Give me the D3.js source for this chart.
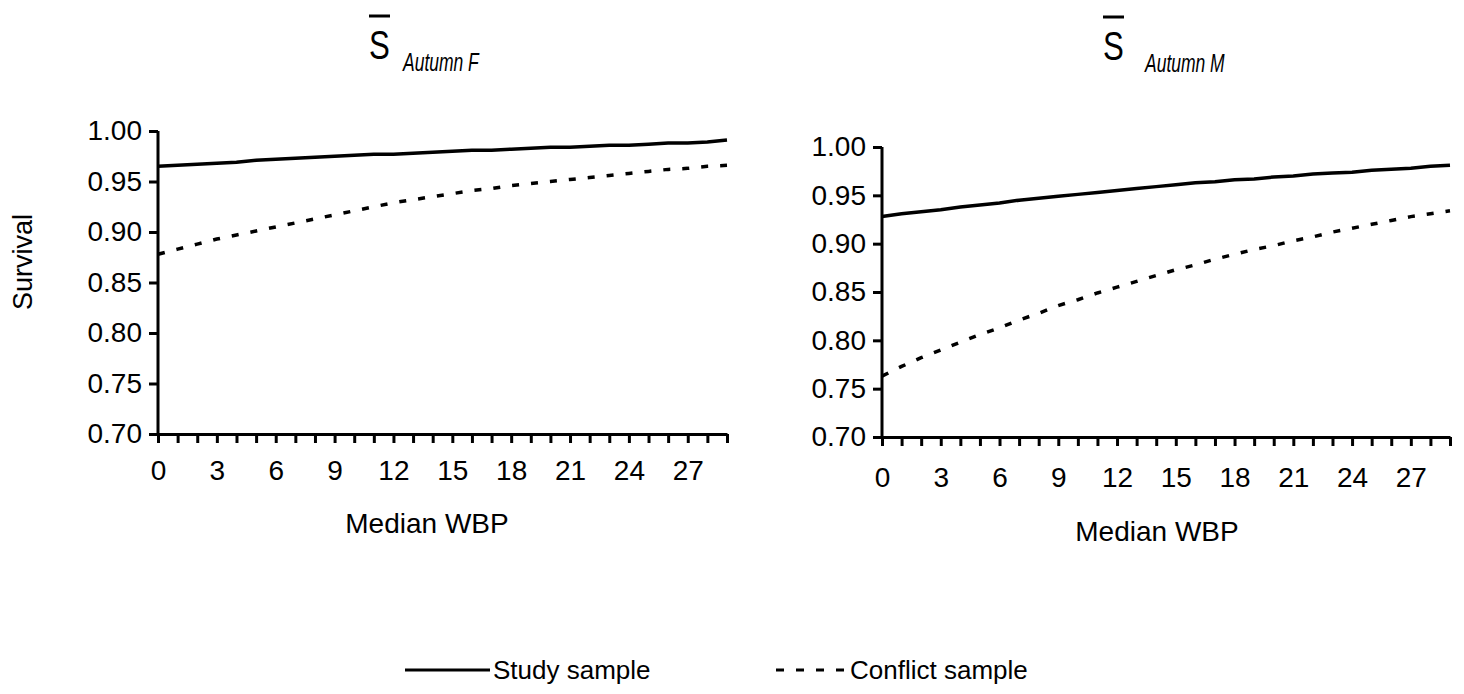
<!DOCTYPE html>
<html>
<head>
<meta charset="utf-8">
<script src="https://cdn.jsdelivr.net/npm/d3@7"></script>
<style>
  body { margin: 0; background: #fff; }
  svg text { font-family: "Liberation Sans", Arial, sans-serif; fill: #000; }
</style>
</head>
<body>
<div id="chart"></div>
<script>
// median WBP categories 0..29
var wbp = d3.range(0, 30);
var xTickLabels = [0, 3, 6, 9, 12, 15, 18, 21, 24, 27];
var yTicks = [0.70, 0.75, 0.80, 0.85, 0.90, 0.95, 1.00];

// Autumn F
var studyF = [0.965,0.966,0.967,0.968,0.969,0.971,0.972,0.973,0.974,0.975,0.976,0.977,0.977,0.978,0.979,
              0.980,0.981,0.981,0.982,0.983,0.984,0.984,0.985,0.986,0.986,0.987,0.988,0.988,0.989,0.991];
var conflictF = [0.878,0.883,0.888,0.893,0.897,0.901,0.905,0.909,0.913,0.917,0.921,0.925,0.929,0.932,0.935,
                 0.938,0.941,0.943,0.946,0.948,0.950,0.952,0.954,0.956,0.958,0.960,0.962,0.963,0.965,0.966];

// Autumn M
var studyM = [0.928,0.931,0.933,0.935,0.938,0.940,0.942,0.945,0.947,0.949,0.951,0.953,0.955,0.957,0.959,
              0.961,0.963,0.964,0.966,0.967,0.969,0.970,0.972,0.973,0.974,0.976,0.977,0.978,0.980,0.981];
var conflictM = [0.763,0.773,0.782,0.790,0.798,0.806,0.813,0.821,0.828,0.836,0.842,0.849,0.855,0.861,0.867,
                 0.873,0.878,0.884,0.889,0.894,0.898,0.903,0.907,0.912,0.916,0.920,0.924,0.928,0.931,0.934];

var svg = d3.select("#chart").append("svg")
    .attr("width", 1464)
    .attr("height", 694);

function drawPanel(p) {
  var x = d3.scaleLinear().domain([0, 29]).range([p.left, p.right]);
  var y = d3.scaleLinear().domain([0.70, 1.00]).range([p.bottom, p.top]);
  var g = svg.append("g");

  // y axis
  var yAxis = g.append("g")
      .attr("transform", "translate(" + p.left + ",0)")
      .call(d3.axisLeft(y).tickValues(yTicks).tickFormat(d3.format(".2f")).tickSize(9).tickSizeOuter(0).tickPadding(7));
  yAxis.select(".domain").attr("stroke-width", 3).attr("d", "M0," + p.top + "V" + (p.bottom + 1.5));
  yAxis.selectAll(".tick line").attr("stroke-width", 3);
  yAxis.selectAll("text").style("font-size", "28px");

  // x axis
  var xAxis = g.append("g")
      .attr("transform", "translate(0," + p.bottom + ")")
      .call(d3.axisBottom(x).tickValues(wbp.concat([29])).tickSize(9).tickSizeOuter(0).tickPadding(p.xPad)
        .tickFormat(function(d) { return xTickLabels.indexOf(d) >= 0 ? d : ""; }));
  xAxis.select(".domain").attr("stroke-width", 3);
  xAxis.selectAll(".tick line").attr("stroke-width", 3);
  xAxis.selectAll("text").style("font-size", "28px");

  var line = d3.line()
      .x(function(d, i) { return x(wbp[i]); })
      .y(function(d) { return y(d); });

  g.append("path").datum(p.study)
      .attr("d", line).attr("fill", "none").attr("stroke", "#000").attr("stroke-width", 3.5);
  g.append("path").datum(p.conflict)
      .attr("d", line).attr("fill", "none").attr("stroke", "#000").attr("stroke-width", 3.5)
      .attr("stroke-dasharray", "7,12");

  // x axis title
  g.append("text")
      .attr("x", p.labelX)
      .attr("y", p.bottom + p.titleOff)
      .attr("text-anchor", "middle")
      .style("font-size", "28px")
      .text("Median WBP");

  // title: S-bar with italic subscript (condensed like the original)
  g.append("text")
      .attr("transform", "translate(" + p.titleX + "," + p.titleY + ") scale(0.78,1)")
      .style("font-size", "40px")
      .text("S");
  g.append("line")
      .attr("x1", p.titleX).attr("x2", p.titleX + 21)
      .attr("y1", p.titleY - 43).attr("y2", p.titleY - 43)
      .attr("stroke", "#000").attr("stroke-width", 3);
  g.append("text")
      .attr("transform", "translate(" + p.subX + "," + (p.titleY + 12) + ") scale(0.7,1)")
      .style("font-size", "25px")
      .style("font-style", "italic")
      .text(p.sub);
}

drawPanel({left: 158, right: 727, top: 131, bottom: 434, study: studyF, conflict: conflictF,
           sub: "Autumn F", titleX: 369, subX: 403, titleY: 59, xPad: 17, titleOff: 99, labelX: 427});
drawPanel({left: 882, right: 1450, top: 147, bottom: 437, study: studyM, conflict: conflictM,
           sub: "Autumn M", titleX: 1103, subX: 1145, titleY: 60, xPad: 21, titleOff: 104, labelX: 1157});

// y axis label
svg.append("text")
    .attr("transform", "translate(32,262) rotate(-90)")
    .attr("text-anchor", "middle")
    .style("font-size", "27px")
    .text("Survival");

// legend
var legend = svg.append("g");
legend.append("line")
    .attr("x1", 405).attr("x2", 490).attr("y1", 670).attr("y2", 670)
    .attr("stroke", "#000").attr("stroke-width", 3);
legend.append("text")
    .attr("x", 493).attr("y", 679)
    .style("font-size", "26px")
    .text("Study sample");
legend.append("line")
    .attr("x1", 776).attr("x2", 846).attr("y1", 670).attr("y2", 670)
    .attr("stroke", "#000").attr("stroke-width", 3)
    .attr("stroke-dasharray", "8,12");
legend.append("text")
    .attr("x", 850).attr("y", 679)
    .style("font-size", "26px")
    .text("Conflict sample");
</script>
</body>
</html>
